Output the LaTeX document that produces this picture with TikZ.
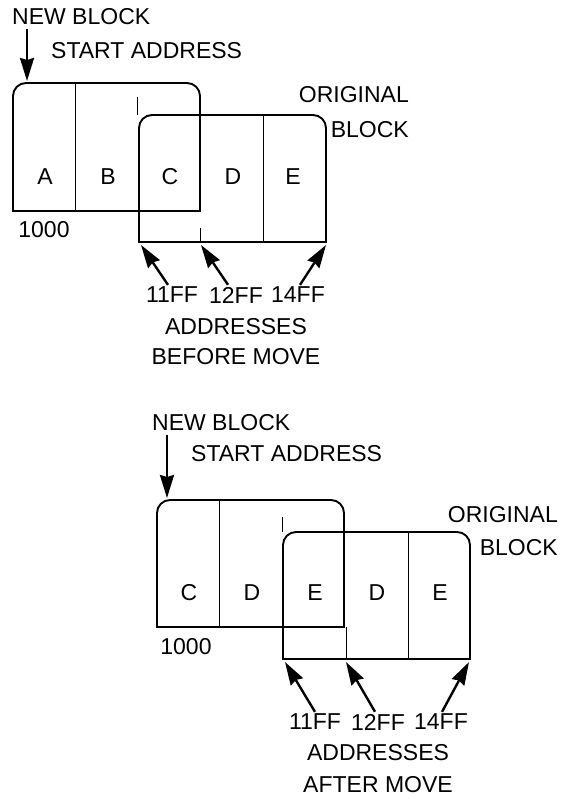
\documentclass[tikz,border=0pt]{standalone}
\usepackage{fontspec}
\setmainfont{Liberation Sans}
\usetikzlibrary{arrows.meta}
\begin{document}
\begin{tikzpicture}[x=1pt,y=-1pt,
  lbl/.style={inner sep=0pt,font=\fontsize{23}{27}\selectfont},
  blk/.style={line width=1.9pt,line join=miter},
  divl/.style={line width=0.9pt},
  arr/.style={line width=2.4pt,-{Stealth[length=23pt,width=14pt,inset=2pt]}}]
\useasboundingbox (0,0) rectangle (577,802);
% ---------- top diagram ----------
\draw[blk] (200,211) -- (13,211) [rounded corners=13pt] -- (13,83) -- (200,83) [sharp corners] -- (200,211) -- cycle;
\draw[blk] (326,242) -- (139,242) [rounded corners=13pt] -- (139,115) -- (326,115) [sharp corners] -- (326,242) -- cycle;
\draw[divl] (75,83) -- (75,211);
\draw[divl] (137,97) -- (137,115);
\draw[divl] (200,228) -- (200,242);
\draw[divl] (263,115) -- (263,242);
\node[lbl] (tA) at (45,177) {A};
\node[lbl] (tB) at (108,177) {B};
\node[lbl] (tC) at (170,177) {C};
\node[lbl] (tD) at (233,177) {D};
\node[lbl] (tE) at (293,177) {E};
\node[lbl] (t1000) at (44,230) {1000};
\node[lbl,anchor=west] (tnb) at (12,17) {NEW BLOCK};
\node[lbl,anchor=west] (tsa) at (51,51) {START ADDRESS};
\node[lbl,anchor=east] (tor) at (409,95) {ORIGINAL};
\node[lbl,anchor=east] (tbl) at (409,130) {BLOCK};
\coordinate (tnbh) at (27,81);
\draw[arr] (27,29) -- (tnbh);
\node[lbl] (t11) at (172,295) {11FF};
\node[lbl] (t12) at (236,295) {12FF};
\node[lbl] (t14) at (298,295) {14FF};
\coordinate (th1) at (141,245);
\coordinate (th2) at (201,245);
\coordinate (th3) at (326,245);
\draw[arr] ([xshift=-4pt,yshift=2pt]t11.north) -- (th1);
\draw[arr] ([xshift=-8pt,yshift=2pt]t12.north) -- (th2);
\draw[arr] ([xshift=2pt,yshift=2pt]t14.north) -- (th3);
\node[lbl] (tad) at (236,327) {ADDRESSES};
\node[lbl] (tbm) at (236,357) {BEFORE MOVE};
% ---------- bottom diagram ----------
\draw[blk] (344,627) -- (157,627) [rounded corners=13pt] -- (157,500) -- (344,500) [sharp corners] -- (344,627) -- cycle;
\draw[blk] (470,659) -- (283,659) [rounded corners=13pt] -- (283,532) -- (470,532) [sharp corners] -- (470,659) -- cycle;
\draw[divl] (219,500) -- (219,627);
\draw[divl] (282,517) -- (282,532);
\draw[divl] (346,627) -- (346,659);
\draw[divl] (408,532) -- (408,659);
\node[lbl] (bC) at (189,593) {C};
\node[lbl] (bD) at (252,593) {D};
\node[lbl] (bE) at (315,593) {E};
\node[lbl] (bD2) at (377,593) {D};
\node[lbl] (bE2) at (440,593) {E};
\node[lbl] (b1000) at (186,647) {1000};
\node[lbl,anchor=west] (bnb) at (152,423) {NEW BLOCK};
\node[lbl,anchor=west] (bsa) at (191,454) {START ADDRESS};
\node[lbl,anchor=east] (bor) at (558,515) {ORIGINAL};
\node[lbl,anchor=east] (bbl) at (558,548) {BLOCK};
\coordinate (bnbh) at (167,498);
\draw[arr] (167,435) -- (bnbh);
\node[lbl] (b11) at (315,722) {11FF};
\node[lbl] (b12) at (378,722) {12FF};
\node[lbl] (b14) at (441,722) {14FF};
\coordinate (bh1) at (285,662);
\coordinate (bh2) at (346,662);
\coordinate (bh3) at (469,662);
\draw[arr] ([yshift=2pt]b11.north) -- (bh1);
\draw[arr] ([xshift=-3pt,yshift=2pt]b12.north) -- (bh2);
\draw[arr] ([xshift=1pt,yshift=2pt]b14.north) -- (bh3);
\node[lbl] (bad) at (378,753) {ADDRESSES};
\node[lbl] (bam) at (378,785) {AFTER MOVE};
\end{tikzpicture}
\end{document}
